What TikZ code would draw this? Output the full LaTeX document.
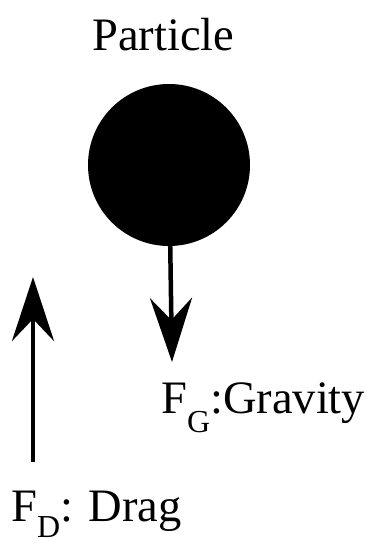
\documentclass[tikz,border=0pt]{standalone}
\usepackage{fontspec}
\setmainfont{Liberation Serif}
\usepackage{tikz}
\usetikzlibrary{positioning, arrows.meta}
\newcommand{\forcesub}[2][19pt]{\raisebox{-#1}{\fontsize{32}{32}\selectfont #2}}
\tikzset{
    particle_style/.style={
        circle,               % solid ball
        fill=black,
        minimum size=162pt,
        inner sep=0pt
    },
    label_style/.style={
        anchor=base west,
        inner sep=0pt,
        font=\fontsize{46.5}{46.5}\selectfont
    },
    force_arrow/.style={
        -{Stealth[length=64pt, width=42pt, inset=22pt]},
        line width=4.5pt
    }
}
\begin{document}
\begin{tikzpicture}[x=1pt, y=-1pt]
    \useasboundingbox (0,0) rectangle (371,544);
    % 1. particle and its name
    \node[particle_style] (particle) at (169,165) {};
    \node[label_style] (particle_label) at (92,50) {Particle};

    % 2. end points of the forces
    \coordinate (gravity_tip) at (172,362);
    \coordinate (drag_tail) at (33,462);
    \coordinate (drag_tip) at (33,277);

    % 3. forces
    \draw[force_arrow] (particle.center) -- (gravity_tip);   % gravity
    \draw[force_arrow] (drag_tail) -- (drag_tip);            % drag

    % 4. labels
    \node[label_style] (gravity_label) at (161,413) {F\forcesub{G}:Gravity};
    \node[label_style] (drag_label) at (11,521) {F\forcesub[16pt]{D}: Drag};
\end{tikzpicture}
\end{document}
